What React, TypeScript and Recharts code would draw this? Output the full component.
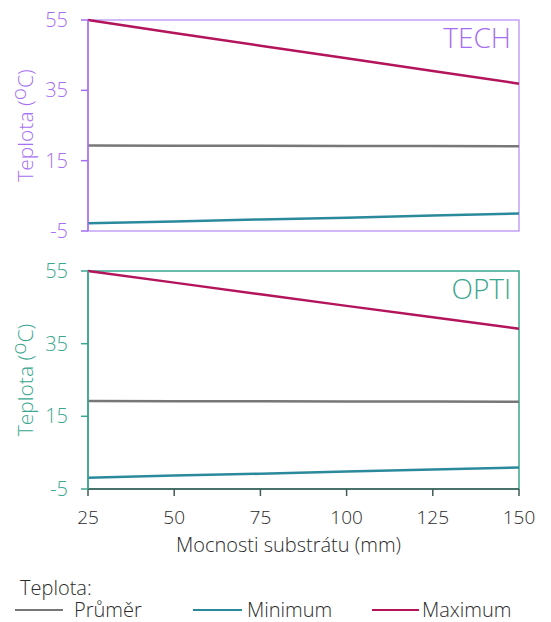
import { LineChart, Line, XAxis, YAxis, ReferenceArea } from "recharts";

const thickness = [25, 50, 75, 100, 125, 150];
const yTicks = [-5, 15, 35, 55];

// TECH substrate
const techAvg = [19.3, 19.27, 19.23, 19.18, 19.14, 19.1];
const techMin = [-2.8, -2.3, -1.7, -1.2, -0.6, 0.0];
const techMax = [55.0, 51.3, 47.7, 44.1, 40.5, 36.9];

// OPTI substrate
const optiAvg = [19.2, 19.17, 19.14, 19.1, 19.06, 19.0];
const optiMin = [-1.9, -1.3, -0.8, -0.2, 0.4, 0.9];
const optiMax = [55.0, 51.8, 48.6, 45.4, 42.3, 39.1];

const FONT = "'Open Sans', sans-serif";
const PURPLE = "#a66ef3";
const PURPLE_LIGHT = "#c4a0f7";
const TEAL = "#3aa68e";
const AXIS_DARK = "#3f5b55";
const TEXT = "#2b2b2b";
const C_AVG = "#777777";
const C_MIN = "#2a8a9c";
const C_MAX = "#b3145b";

const toRows = (avg: number[], min: number[], max: number[]) =>
  thickness.map((t, i) => ({ t, avg: avg[i], min: min[i], max: max[i] }));

const techData = toRows(techAvg, techMin, techMax);
const optiData = toRows(optiAvg, optiMin, optiMax);

function YLabel({ viewBox, color }: any) {
  const cx = viewBox.x + 25;
  const cy = viewBox.y + viewBox.height / 2;
  return (
    <text
      x={cx}
      y={cy}
      transform={`rotate(-90 ${cx} ${cy})`}
      textAnchor="middle"
      dominantBaseline="central"
      fill={color}
      fontSize={21}
      fontFamily={FONT}
      fontWeight={300}
    >
      Teplota (<tspan dy={-7}>o</tspan>
      <tspan dy={7}>C)</tspan>
    </text>
  );
}

function Series() {
  return [
    <Line key="avg" dataKey="avg" stroke={C_AVG} strokeWidth={2.5} dot={false} isAnimationActive={false} />,
    <Line key="min" dataKey="min" stroke={C_MIN} strokeWidth={2.5} dot={false} isAnimationActive={false} />,
    <Line key="max" dataKey="max" stroke={C_MAX} strokeWidth={2.5} dot={false} isAnimationActive={false} />,
  ];
}

function Panel({
  data,
  title,
  color,
  frame,
  height,
  margin,
  showX,
}: {
  data: any[];
  title: string;
  color: string;
  frame: string;
  height: number;
  margin: any;
  showX: boolean;
}) {
  return (
    <LineChart width={551} height={height} data={data} margin={margin}>
      <XAxis
        dataKey="t"
        type="number"
        domain={[25, 150]}
        ticks={thickness}
        interval={0}
        hide={!showX}
        height={70}
        stroke={AXIS_DARK}
        strokeWidth={1.5}
        tickSize={7}
        tickMargin={15}
        tick={{ fill: TEXT, fontSize: 19, fontFamily: FONT, fontWeight: 300 }}
        label={(p: any) => (
          <text
            x={p.viewBox.x + p.viewBox.width / 2 - 15}
            y={p.viewBox.y + p.viewBox.height - 7}
            textAnchor="middle"
            fill={TEXT}
            fontSize={20}
            fontFamily={FONT}
            fontWeight={300}
          >
            Mocnosti substrátu (mm)
          </text>
        )}
      />
      <YAxis
        type="number"
        domain={[-5, 55]}
        ticks={yTicks}
        interval={0}
        width={88}
        stroke={color}
        strokeWidth={1.5}
        tickSize={7}
        tickMargin={13}
        tick={{ fill: color, fontSize: 20, fontFamily: FONT, fontWeight: 300 }}
        label={(p: any) => <YLabel viewBox={p.viewBox} color={color} />}
      />
      <ReferenceArea
        x1={25}
        x2={150}
        y1={-5}
        y2={55}
        fill="none"
        stroke={frame}
        strokeWidth={1.5}
        label={{
          value: title,
          position: "insideTopRight",
          offset: 8,
          fill: color,
          fontSize: 28,
          fontFamily: FONT,
          fontWeight: 300,
        }}
      />
      {Series()}
    </LineChart>
  );
}

function LegendItem({ left, width, gap, color, text }: { left: number; width: number; gap: number; color: string; text: string }) {
  return (
    <div style={{ position: "absolute", left, top: 0, display: "flex", alignItems: "center" }}>
      <div style={{ width, height: 2.5, background: color, marginRight: gap }} />
      <span>{text}</span>
    </div>
  );
}

export default function App() {
  return (
    <div
      style={{
        position: "absolute",
        left: 0,
        top: 0,
        width: 551,
        height: 622,
        background: "#fff",
        fontFamily: FONT,
        fontWeight: 300,
        color: TEXT,
        overflow: "hidden",
      }}
    >
      <div style={{ position: "absolute", left: 0, top: 0 }}>
        <Panel
          data={techData}
          title="TECH"
          color={PURPLE}
          frame={PURPLE_LIGHT}
          height={250}
          margin={{ top: 20, right: 32, bottom: 19, left: 0 }}
          showX={false}
        />
      </div>
      <div style={{ position: "absolute", left: 0, top: 250 }}>
        <Panel
          data={optiData}
          title="OPTI"
          color={TEAL}
          frame={TEAL}
          height={320}
          margin={{ top: 21, right: 32, bottom: 11, left: 0 }}
          showX={true}
        />
      </div>
      <div style={{ position: "absolute", left: 20, top: 576, fontSize: 20, lineHeight: "24px" }}>Teplota:</div>
      <div style={{ position: "absolute", left: 15, top: 599, width: 536, fontSize: 20, lineHeight: "22px" }}>
        <LegendItem left={0} width={48} gap={11} color={C_AVG} text="Průměr" />
        <LegendItem left={178} width={49} gap={5} color={C_MIN} text="Minimum" />
        <LegendItem left={357} width={47} gap={3} color={C_MAX} text="Maximum" />
      </div>
    </div>
  );
}
